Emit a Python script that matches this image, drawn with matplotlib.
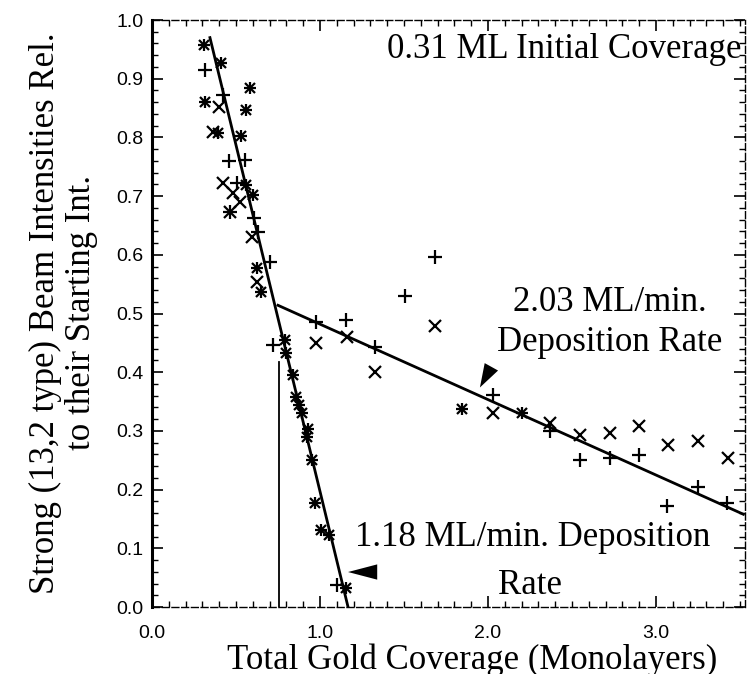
import matplotlib
matplotlib.use("Agg")
import matplotlib.pyplot as plt
from matplotlib.ticker import MultipleLocator, FixedLocator, FormatStrFormatter

plt.rcParams['font.family'] = ['Liberation Serif', 'DejaVu Serif']

# points carrying both symbols (overlapping + and x)
star_x = [0.31, 0.41, 0.583, 0.315, 0.56, 0.395, 0.53, 0.56, 0.603, 0.623, 0.647,
          0.79, 0.80, 0.84, 0.86, 0.877, 0.89, 0.93, 0.92, 0.95, 0.97, 1.004,
          1.055, 1.155, 1.843, 2.20]
star_y = [0.957, 0.926, 0.884, 0.861, 0.847, 0.807, 0.802, 0.719, 0.702, 0.577, 0.537,
          0.455, 0.432, 0.395, 0.358, 0.344, 0.33, 0.304, 0.29, 0.25, 0.177, 0.131,
          0.123, 0.032, 0.338, 0.33]

plus_x = [0.315, 0.425, 0.46, 0.554, 0.504, 0.464, 0.607, 0.633, 0.702, 0.72, 0.976,
          1.155, 1.33, 1.506, 1.685, 1.10, 2.03, 2.37, 2.55, 2.726, 2.90, 3.064,
          3.25, 3.42]
plus_y = [0.915, 0.872, 0.759, 0.762, 0.723, 0.673, 0.662, 0.639, 0.588, 0.447, 0.486,
          0.489, 0.443, 0.529, 0.597, 0.037, 0.361, 0.30, 0.25, 0.253, 0.259, 0.172,
          0.205, 0.177]

cross_x = [0.40, 0.365, 0.42, 0.484, 0.524, 0.464, 0.593, 0.623, 0.976, 1.159, 1.33,
           1.685, 2.03, 2.37, 2.55, 2.726, 2.90, 3.073, 3.25, 3.43]
cross_y = [0.851, 0.81, 0.722, 0.705, 0.69, 0.673, 0.63, 0.554, 0.45, 0.46, 0.40,
           0.479, 0.33, 0.313, 0.293, 0.297, 0.308, 0.276, 0.283, 0.253]

# fitted lines
fast_x = [0.345, 1.167]
fast_y = [0.97, 0.0]
slow_x = [0.75, 3.52]
slow_y = [0.514, 0.158]
mark_x = [0.755, 0.755]
mark_y = [0.0, 0.417]

fig = plt.figure(figsize=(7.55, 6.74), dpi=100)
ax = fig.add_axes([0.2013, 0.0994, 0.7855, 0.8709])

ax.plot(fast_x, fast_y, color='black', lw=2.0)
ax.plot(slow_x, slow_y, color='black', lw=2.0)
ax.plot(mark_x, mark_y, color='black', lw=1.3)

ax.plot(plus_x, plus_y, ls='none', marker='+', ms=10, mew=1.6, color='black')
ax.plot(cross_x, cross_y, ls='none', marker='x', ms=8, mew=1.6, color='black')
ax.plot(star_x, star_y, ls='none', marker='+', ms=9, mew=1.6, color='black')
ax.plot(star_x, star_y, ls='none', marker='x', ms=7, mew=1.6, color='black')

ax.set_xlim(0, 3.53)
ax.set_ylim(0, 1.0)

ax.xaxis.set_major_locator(FixedLocator([0, 1, 2, 3]))
ax.xaxis.set_minor_locator(MultipleLocator(0.1))
ax.yaxis.set_major_locator(MultipleLocator(0.1))
ax.yaxis.set_minor_locator(MultipleLocator(0.02))
ax.xaxis.set_major_formatter(FormatStrFormatter('%.1f'))
ax.yaxis.set_major_formatter(FormatStrFormatter('%.1f'))
ax.tick_params(which='both', direction='in', top=True, right=True, color='black')
ax.tick_params(which='major', length=8, width=1.2)
ax.tick_params(which='minor', length=4, width=1.0)
ax.tick_params(axis='x', pad=13)
ax.tick_params(axis='y', pad=6)
for lab in ax.get_xticklabels() + ax.get_yticklabels():
    lab.set_fontfamily(['Liberation Sans', 'DejaVu Sans'])
    lab.set_fontsize(14)

ax.spines['left'].set_linewidth(2.2)
for side in ['top', 'right', 'bottom']:
    ax.spines[side].set_linewidth(1.0)
    ax.spines[side].set_linestyle((0, (5, 2)))

fs = 25
ax.text(3.51, 0.949, '0.31 ML Initial Coverage', ha='right', va='center', fontsize=fs)
ax.text(2.726, 0.518, '2.03 ML/min.', ha='center', va='center', fontsize=fs)
ax.text(2.726, 0.451, 'Deposition Rate', ha='center', va='center', fontsize=fs)
ax.text(1.21, 0.118, '1.18 ML/min. Deposition', ha='left', va='center', fontsize=fs)
ax.text(2.25, 0.037, 'Rate', ha='center', va='center', fontsize=fs)

# pointer heads for the two rate labels
ax.annotate('', xy=(1.952, 0.374), xytext=(2.045, 0.422),
            arrowprops=dict(arrowstyle='-|>,head_length=1.7,head_width=0.55',
                            color='black', lw=0, shrinkA=0, shrinkB=0, mutation_scale=10))
ax.annotate('', xy=(1.167, 0.0596), xytext=(1.36, 0.0596),
            arrowprops=dict(arrowstyle='-|>,head_length=2.1,head_width=0.55',
                            color='black', lw=0, shrinkA=0, shrinkB=0, mutation_scale=10))

fig.text(45 / 755, 1 - 313 / 674, 'Strong (13,2 type) Beam Intensities Rel.',
         rotation=90, ha='center', va='center', fontsize=fs)
fig.text(81 / 755, 1 - 313 / 674, 'to their Starting Int.',
         rotation=90, ha='center', va='center', fontsize=fs)
fig.text(472 / 755, 5 / 674, 'Total Gold Coverage (Monolayers)',
         ha='center', va='baseline', fontsize=fs)

fig.savefig('out.png', dpi=100)
